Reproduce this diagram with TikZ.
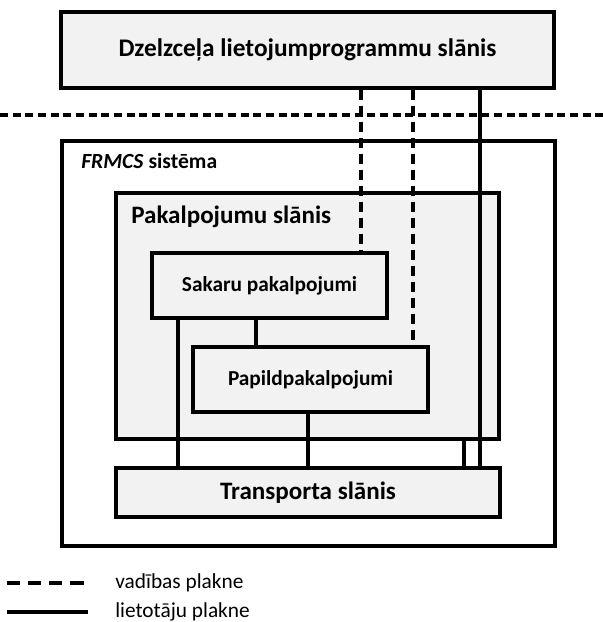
\documentclass[tikz,border=0pt]{standalone}
\usepackage{fontspec}
\setmainfont{Carlito}
\definecolor{layergray}{HTML}{F2F2F2}
\begin{document}
\begin{tikzpicture}[x=0.75pt,y=-0.75pt,
  layer/.style={draw=black, line width=2.4pt, fill=layergray, rectangle, inner sep=0pt},
  frame/.style={draw=black, line width=2.4pt, fill=white, rectangle, inner sep=0pt},
  userline/.style={draw=black, line width=2.3pt},
  ctrlline/.style={draw=black, line width=2.3pt, dash pattern=on 7.5pt off 4.5pt},
  sepline/.style={draw=black, line width=2.3pt, dash pattern=on 6pt off 3.5pt},
  legtext/.style={anchor=base west, inner sep=0pt, font=\fontsize{16}{18}\selectfont}]
\useasboundingbox (0,0) rectangle (603,622);

% application layer and the boundary below it
\node[layer, minimum width=493*0.75pt, minimum height=76*0.75pt,
      font=\fontsize{19}{22}\selectfont\bfseries] (app) at (307.5,50)
      {Dzelzceļa lietojumprogrammu slānis};
\coordinate (sepL) at (0,115);
\coordinate (sepR) at (603,115);

% FRMCS system frame
\node[frame, minimum width=493*0.75pt, minimum height=405*0.75pt] (frmcs) at (308.5,343.5) {};
\node[anchor=base west, inner sep=0pt, font=\fontsize{16.2}{18}\selectfont\bfseries]
      (frmcslabel) at (81,168) {\textit{FRMCS} sistēma};

% service layer with its two service blocks
\node[layer, minimum width=383*0.75pt, minimum height=246*0.75pt] (pak) at (307.5,316) {};
\node[anchor=base west, inner sep=0pt, font=\fontsize{18.8}{22}\selectfont\bfseries]
      (paklabel) at (131,223) {Pakalpojumu slānis};
\node[layer, minimum width=235*0.75pt, minimum height=65*0.75pt,
      font=\fontsize{16}{18}\selectfont\bfseries] (sak) at (269.5,285.5) {Sakaru pakalpojumi};
\node[layer, minimum width=235*0.75pt, minimum height=65*0.75pt,
      font=\fontsize{16}{18}\selectfont\bfseries] (pap) at (310.5,379.5) {Papildpakalpojumi};

% transport layer
\node[layer, minimum width=384*0.75pt, minimum height=49*0.75pt,
      font=\fontsize{18.8}{22}\selectfont\bfseries] (tra) at (308,492.5) {Transporta slānis};

% x positions of the vertical links
\coordinate (xa) at (361,0);
\coordinate (xb) at (413,0);
\coordinate (xc) at (480,0);
\coordinate (xd) at (178,0);
\coordinate (xe) at (256,0);
\coordinate (xf) at (308,0);
\coordinate (xg) at (464,0);

% control plane links
\draw[ctrlline] (app.south -| xa) -- (sak.north -| xa);
\draw[ctrlline] (app.south -| xb) -- (pap.north -| xb);

% user plane links
\draw[userline] (app.south -| xc) -- (tra.north -| xc);
\draw[userline] (sak.south -| xd) -- (tra.north -| xd);
\draw[userline] (sak.south -| xe) -- (pap.north -| xe);
\draw[userline] (pap.south -| xf) -- (tra.north -| xf);
\draw[userline] (pak.south -| xg) -- (tra.north -| xg);

% boundary between the application layer and the FRMCS system
\draw[sepline] (sepL) -- (sepR);

% legend
\coordinate (lc1) at (7,583);
\coordinate (lc2) at (88,583);
\coordinate (lu1) at (7,612);
\coordinate (lu2) at (88,612);
\draw[ctrlline, dash pattern=on 10pt off 5.8pt] (lc1) -- (lc2);
\draw[userline] (lu1) -- (lu2);
\node[legtext] (lctext) at (115,588) {vadības plakne};
\node[legtext] (lutext) at (115,617) {lietotāju plakne};
\end{tikzpicture}
\end{document}
